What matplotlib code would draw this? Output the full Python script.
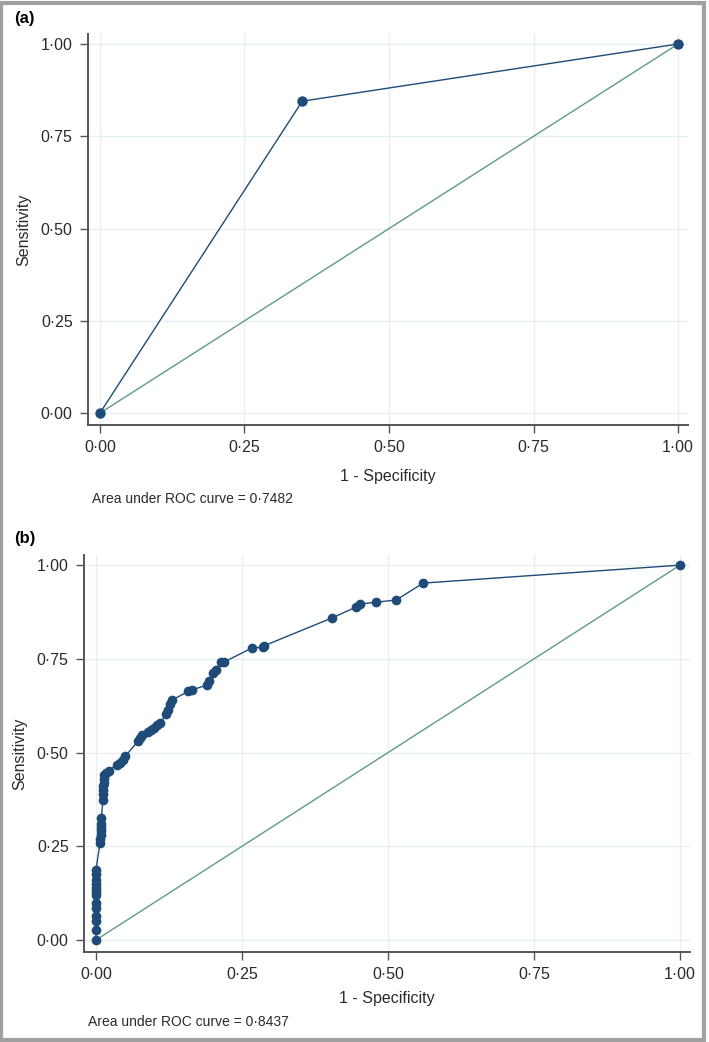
import matplotlib.pyplot as plt
from matplotlib.patches import Rectangle
from matplotlib.ticker import FixedLocator, FuncFormatter

# --- DATA ---
a_fpr = [0.0, 0.35, 1.0]
a_tpr = [0.0, 0.845, 1.0]
a_auc = "0·7482"

b_fpr = [0.0, 0.0, 0.0, 0.0, 0.0, 0.0, 0.0, 0.0, 0.0, 0.0, 0.0, 0.0, 0.0,
         0.007, 0.007, 0.008, 0.008, 0.008, 0.009, 0.009,
         0.012, 0.012, 0.012, 0.012, 0.013, 0.013, 0.014,
         0.018, 0.022, 0.036, 0.041, 0.046, 0.05,
         0.072, 0.075, 0.078, 0.089, 0.095, 0.1, 0.104, 0.11,
         0.12, 0.124, 0.127, 0.13, 0.158, 0.164,
         0.19, 0.193, 0.2, 0.206, 0.214, 0.22,
         0.267, 0.286, 0.288, 0.404, 0.445, 0.452, 0.479, 0.514, 0.56, 1.0]
b_tpr = [0.0, 0.027, 0.05, 0.065, 0.085, 0.1, 0.12, 0.13, 0.14, 0.15, 0.16, 0.175, 0.187,
         0.26, 0.27, 0.28, 0.29, 0.3, 0.31, 0.325,
         0.373, 0.39, 0.4, 0.41, 0.42, 0.43, 0.44,
         0.445, 0.452, 0.468, 0.472, 0.48, 0.49,
         0.53, 0.54, 0.548, 0.555, 0.56, 0.565, 0.573, 0.578,
         0.603, 0.613, 0.63, 0.64, 0.663, 0.667,
         0.68, 0.69, 0.713, 0.72, 0.741, 0.742,
         0.779, 0.781, 0.785, 0.859, 0.888, 0.896, 0.901, 0.907, 0.952, 1.0]
b_auc = "0·8437"

ticks = [0.0, 0.25, 0.5, 0.75, 1.0]

NAVY = '#1f4b78'
TEAL = '#5f9a86'
GRID = '#e6f0f1'
SPINE = '#555555'
TXT = '#2a2a2a'

plt.rcParams['font.family'] = ['Liberation Sans', 'DejaVu Sans']


def fmt(v, pos):
    return f"{v:.2f}".replace('.', '·')


def painel(ax, fpr, tpr, ms, xpad):
    ax.set_xlim(-0.0205, 1.017)
    ax.set_ylim(-0.032, 1.027)
    ax.xaxis.set_major_locator(FixedLocator(ticks))
    ax.yaxis.set_major_locator(FixedLocator(ticks))
    ax.xaxis.set_major_formatter(FuncFormatter(fmt))
    ax.yaxis.set_major_formatter(FuncFormatter(fmt))
    ax.grid(True, color=GRID, lw=1.0)
    ax.set_axisbelow(True)
    for s in ['top', 'right']:
        ax.spines[s].set_visible(False)
    for s in ['left', 'bottom']:
        ax.spines[s].set_color(SPINE)
        ax.spines[s].set_linewidth(1.4)
    ax.tick_params(direction='out', length=6, width=1.0, color=SPINE,
                   labelsize=11.5, labelcolor=TXT, pad=5)
    ax.plot([0, 1], [0, 1], color=TEAL, lw=1.0, zorder=2)
    ax.plot(fpr, tpr, color=NAVY, lw=1.0, marker='o', ms=ms,
            markeredgewidth=0, zorder=3)
    ax.set_xlabel("1 - Specificity", fontsize=11.5, color=TXT, labelpad=xpad)
    ax.set_ylabel("Sensitivity", fontsize=11.5, color=TXT, labelpad=7)


fig = plt.figure(figsize=(7.09, 10.42), dpi=100)

ax_a = fig.add_axes([88 / 709, 1 - 425 / 1042, 600 / 709, 391 / 1042])
painel(ax_a, a_fpr, a_tpr, 7.5, 10)

ax_b = fig.add_axes([84 / 709, 1 - 952 / 1042, 606 / 709, 397 / 1042])
painel(ax_b, b_fpr, b_tpr, 7, 6)

fig.text(92 / 709, 1 - 499 / 1042, f"Area under ROC curve = {a_auc}",
         fontsize=10, color=TXT, ha='left', va='center')
fig.text(88 / 709, 1 - 1022 / 1042, f"Area under ROC curve = {b_auc}",
         fontsize=10, color=TXT, ha='left', va='center')

fig.text(14 / 709, 1 - 18 / 1042, "(a)", fontsize=12, fontweight='bold',
         ha='left', va='center')
fig.text(14 / 709, 1 - 538 / 1042, "(b)", fontsize=12, fontweight='bold',
         ha='left', va='center')

# moldura cinza
fig.add_artist(Rectangle((0.002, 0.002), 0.991, 0.995, transform=fig.transFigure,
                         fill=False, edgecolor='#a0a0a0', lw=3))

fig.savefig('out.png', dpi=100)
